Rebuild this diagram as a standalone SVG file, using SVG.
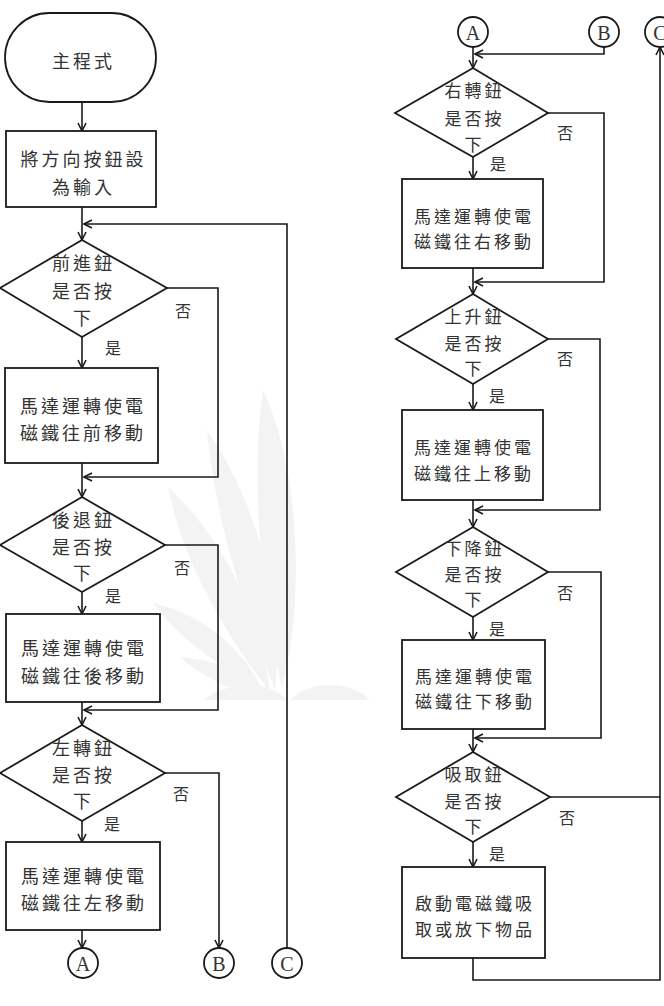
<svg xmlns="http://www.w3.org/2000/svg" width="664" height="1006" viewBox="0 0 664 1006">
<defs>
<marker id="ah" viewBox="0 0 10 10" refX="9" refY="5" markerWidth="10" markerHeight="10" markerUnits="userSpaceOnUse" orient="auto">
<path d="M1,1 L9,5 L1,9" fill="none" stroke="#1a1a1a" stroke-width="1.6"/>
</marker>
<style>
.s{fill:#fff;stroke:#1a1a1a;stroke-width:1.8}
.c{fill:none;stroke:#1a1a1a;stroke-width:1.6}
.a{marker-end:url(#ah)}
.t{font-family:"Noto Sans CJK TC","Noto Sans CJK SC",sans-serif;font-size:18px;letter-spacing:3px;fill:#333;text-anchor:middle;dominant-baseline:central}
.r{font-size:17px}
.l{font-family:"Noto Sans CJK TC",sans-serif;font-size:16px;fill:#333;text-anchor:middle;dominant-baseline:central}
.o{font-family:"Liberation Serif",serif;font-size:20px;fill:#333;text-anchor:middle;dominant-baseline:central}
.w{fill:#f3f3f3}
</style>
</defs>
<rect width="664" height="1006" fill="#fff"/>
<g id="watermark">
<path class="w" d="M263,390 C300,470 305,600 282,688 C262,600 250,480 263,390Z"/>
<path class="w" d="M207,430 C255,500 285,600 275,690 C245,610 215,520 207,430Z"/>
<path class="w" d="M168,487 C225,540 262,620 270,692 C230,640 185,570 168,487Z"/>
<path class="w" d="M153,603 C205,615 245,650 265,695 C220,665 180,640 153,603Z"/>
<path class="w" d="M180,657 C220,660 250,675 262,700 C230,690 200,675 180,657Z"/>
<path class="w" d="M203,700 C230,680 270,680 287,700Z M290,700 C310,680 350,680 370,700Z"/>
</g>
<g id="connectors">
<path class="c a" d="M82,102 V131"/>
<path class="c a" d="M82,207 V240"/>
<path class="c a" d="M287,948 V224 H84"/>
<path class="c a" d="M82,337 V368"/>
<path class="c a" d="M167,288 H218 V477 H84"/>
<path class="c a" d="M82,463 V497"/>
<path class="c a" d="M82,592 V614"/>
<path class="c a" d="M165,545 H218 V710 H84"/>
<path class="c a" d="M82,702 V725"/>
<path class="c a" d="M82,821 V842"/>
<path class="c a" d="M165,773 H219 V948"/>
<path class="c a" d="M82,930 V948"/>
<path class="c a" d="M473,47 V68"/>
<path class="c a" d="M604,47 V54 H475"/>
<path class="c a" d="M473,157 V179"/>
<path class="c a" d="M548,113 H604 V282 H475"/>
<path class="c a" d="M473,268 V294"/>
<path class="c a" d="M473,384 V410"/>
<path class="c a" d="M548,339 H600 V510 H475"/>
<path class="c a" d="M473,500 V527"/>
<path class="c a" d="M473,617 V640"/>
<path class="c a" d="M548,572 H601 V738 H475"/>
<path class="c a" d="M473,729 V752"/>
<path class="c a" d="M473,842 V867"/>
<path class="c" d="M550,797 H660"/>
<path class="c a" d="M473,958 V980 H660 V47"/>
</g>
<g id="labels">
<text class="l" x="183" y="310">否</text><text class="l" x="113" y="347">是</text>
<text class="l" x="182" y="567">否</text><text class="l" x="113" y="595">是</text>
<text class="l" x="181" y="793">否</text><text class="l" x="112" y="823">是</text>
<text class="l" x="565" y="132">否</text><text class="l" x="498" y="163">是</text>
<text class="l" x="565" y="358">否</text><text class="l" x="497" y="395">是</text>
<text class="l" x="565" y="592">否</text><text class="l" x="497" y="628">是</text>
<text class="l" x="567" y="817">否</text><text class="l" x="497" y="853">是</text>
</g>
<g id="start">
<rect class="s" x="5" y="13" width="151" height="89" rx="44.5"/>
<text class="t" x="83.5" y="60">主程式</text>
</g>
<g id="init">
<rect class="s" x="6" y="131" width="150" height="76"/>
<text class="t" x="83.5" y="158">將方向按鈕設</text>
<text class="t" x="83.5" y="186">為輸入</text>
</g>
<g id="d_forward">
<polygon class="s" points="82,240 167,288 82,337 0,288"/>
<text class="t" x="83.5" y="262">前進鈕</text>
<text class="t" x="83.5" y="290">是否按</text>
<text class="t" x="83.5" y="317">下</text>
</g>
<g id="p_forward">
<rect class="s" x="5" y="368" width="153" height="95"/>
<text class="t" x="83" y="405">馬達運轉使電</text>
<text class="t" x="83" y="432">磁鐵往前移動</text>
</g>
<g id="d_back">
<polygon class="s" points="82,497 165,545 82,592 0,545"/>
<text class="t" x="83.5" y="519">後退鈕</text>
<text class="t" x="83.5" y="546">是否按</text>
<text class="t" x="83.5" y="572">下</text>
</g>
<g id="p_back">
<rect class="s" x="6" y="614" width="154" height="88"/>
<text class="t" x="84" y="647">馬達運轉使電</text>
<text class="t" x="84" y="675">磁鐵往後移動</text>
</g>
<g id="d_left">
<polygon class="s" points="82,725 165,773 82,821 0,773"/>
<text class="t" x="83.5" y="747">左轉鈕</text>
<text class="t" x="83.5" y="774">是否按</text>
<text class="t" x="83.5" y="800">下</text>
</g>
<g id="p_left">
<rect class="s" x="6" y="842" width="154" height="88"/>
<text class="t" x="84" y="875">馬達運轉使電</text>
<text class="t" x="84" y="902">磁鐵往左移動</text>
</g>
<g id="conn_A1"><circle class="s" cx="83" cy="963" r="15"/><text class="o" x="83" y="964">A</text></g>
<g id="conn_B1"><circle class="s" cx="219" cy="963" r="15"/><text class="o" x="219" y="964">B</text></g>
<g id="conn_C1"><circle class="s" cx="287" cy="963" r="15"/><text class="o" x="287" y="964">C</text></g>
<g id="conn_A2"><circle class="s" cx="473" cy="32" r="15"/><text class="o" x="473" y="33">A</text></g>
<g id="conn_B2"><circle class="s" cx="604" cy="32" r="15"/><text class="o" x="604" y="33">B</text></g>
<g id="conn_C2"><circle class="s" cx="660" cy="32" r="15"/><text class="o" x="660" y="33">C</text></g>
<g id="d_right">
<polygon class="s" points="473,68 548,113 473,157 395,113"/>
<text class="t r" x="474.5" y="89">右轉鈕</text>
<text class="t r" x="474.5" y="117">是否按</text>
<text class="t r" x="474.5" y="143">下</text>
</g>
<g id="p_right">
<rect class="s" x="402" y="179" width="141" height="89"/>
<text class="t r" x="474" y="215">馬達運轉使電</text>
<text class="t r" x="474" y="240">磁鐵往右移動</text>
</g>
<g id="d_up">
<polygon class="s" points="473,294 548,339 473,384 396,339"/>
<text class="t r" x="474.5" y="315">上升鈕</text>
<text class="t r" x="474.5" y="342">是否按</text>
<text class="t r" x="474.5" y="367">下</text>
</g>
<g id="p_up">
<rect class="s" x="402" y="410" width="141" height="90"/>
<text class="t r" x="474" y="446">馬達運轉使電</text>
<text class="t r" x="474" y="472">磁鐵往上移動</text>
</g>
<g id="d_down">
<polygon class="s" points="473,527 548,572 473,617 396,572"/>
<text class="t r" x="474.5" y="547">下降鈕</text>
<text class="t r" x="474.5" y="573">是否按</text>
<text class="t r" x="474.5" y="598">下</text>
</g>
<g id="p_down">
<rect class="s" x="402" y="640" width="143" height="89"/>
<text class="t r" x="475" y="675">馬達運轉使電</text>
<text class="t r" x="475" y="700">磁鐵往下移動</text>
</g>
<g id="d_grab">
<polygon class="s" points="473,752 550,797 473,842 396,797"/>
<text class="t r" x="474.5" y="773">吸取鈕</text>
<text class="t r" x="474.5" y="800">是否按</text>
<text class="t r" x="474.5" y="825">下</text>
</g>
<g id="p_grab">
<rect class="s" x="402" y="867" width="143" height="91"/>
<text class="t r" x="475" y="902">啟動電磁鐵吸</text>
<text class="t r" x="475" y="928">取或放下物品</text>
</g>
</svg>
